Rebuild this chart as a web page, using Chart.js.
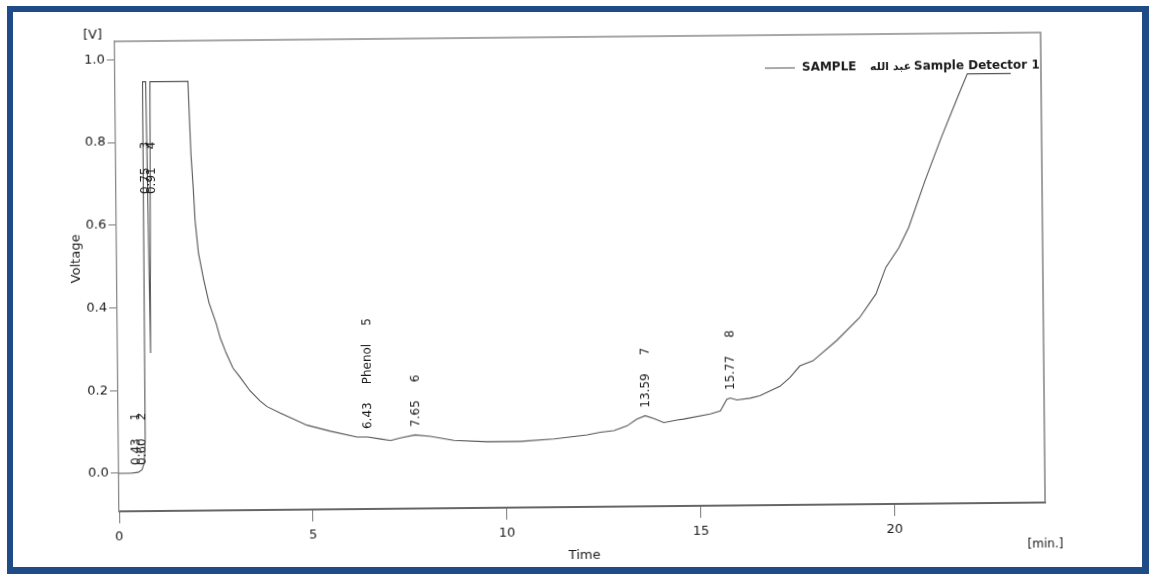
<!DOCTYPE html>
<html>
<head>
<meta charset="utf-8">
<script src="https://cdn.jsdelivr.net/npm/chart.js@4.4.1/dist/chart.umd.min.js"></script>
<style>
    html, body { margin: 0; padding: 0; background: #fff; }
    #wrap { position: relative; width: 1149px; height: 574px; overflow: hidden; }
    #chromChart { position: absolute; left: 0; top: 0; transform: rotate(-0.55deg); }
    #frame {
        position: absolute; left: 7px; top: 6px; right: 0; bottom: 0;
        box-sizing: border-box; pointer-events: none;
        border-left: 6px solid #1f4c86; border-top: 6px solid #1f4c86;
        border-right: 7px solid #1f4c86; border-bottom: 7px solid #1f4c86;
    }
</style>
</head>
<body>
<div id="wrap">
    <canvas id="chromChart" width="1149" height="574"></canvas>
    <div id="frame"></div>
</div>
<script>
// retention time (min) and detector signal (V)
const timeMin = [0, 0.3, 0.5, 0.6, 0.66, 0.69, 0.71, 0.79, 0.85, 0.90, 1.88, 1.94, 1.99, 2.03, 2.11, 2.24, 2.37, 2.55, 2.65, 2.80,
    2.97, 3.15, 3.40, 3.66, 3.84, 4.18, 4.87, 5.47, 6.16, 6.43, 6.76, 7.02, 7.27, 7.65, 8.05, 8.65, 9.51, 10.37, 11.23, 12.09,
    12.43, 12.78, 13.12, 13.37, 13.59, 13.81, 14.07, 14.41, 14.58, 15.27, 15.53, 15.70, 15.79, 15.96, 16.30, 16.55, 16.90, 17.07,
    17.33, 17.59, 17.93, 18.54, 19.14, 19.57, 19.83, 20.17, 20.43, 20.86, 21.29, 21.72, 21.98, 23.1];
const voltage = [0, 0, 0.002, 0.008, 0.025, 0.08, 0.946, 0.946, 0.29, 0.946, 0.946, 0.77, 0.69, 0.61, 0.53, 0.465, 0.41, 0.36, 0.325, 0.288,
    0.252, 0.23, 0.197, 0.172, 0.158, 0.142, 0.112, 0.097, 0.082, 0.082, 0.077, 0.073, 0.079, 0.086, 0.082, 0.072, 0.068, 0.068, 0.073, 0.082,
    0.088, 0.092, 0.103, 0.119, 0.127, 0.120, 0.110, 0.116, 0.118, 0.130, 0.137, 0.165, 0.168, 0.163, 0.167, 0.173, 0.188, 0.195,
    0.216, 0.244, 0.256, 0.304, 0.359, 0.416, 0.480, 0.527, 0.576, 0.688, 0.792, 0.889, 0.946, 0.946];

// peak table
const peakTimes = [0.43, 0.60, 0.75, 0.91, 6.43, 7.65, 13.59, 15.77];
const peakNames = ['', '', '', '', 'Phenol', '', '', ''];
const peakNumbers = ['1', '2', '3', '4', '5', '6', '7', '8'];
const peakApex = [0.0, 0.0, 0.655, 0.655, 0.082, 0.086, 0.127, 0.168];

const xTicks = [0, 5, 10, 15, 20];
const yTicks = [0, 0.2, 0.4, 0.6, 0.8, 1.0];

const legendName = 'SAMPLE';
const legendOwner = 'عبد الله';
const legendDetector = 'Sample Detector 1';

const font = 'DejaVu Sans';
const ink = '#1a1a1a';

const chromOverlay = {
    id: 'chromOverlay',
    afterDatasetsDraw(chart) {
        const { ctx, chartArea, scales } = chart;
        const x = scales.x;
        const y = scales.y;

        ctx.save();
        // top and right sides of the frame box
        ctx.strokeStyle = '#8a8a8a';
        ctx.lineWidth = 1.6;
        ctx.beginPath();
        ctx.moveTo(chartArea.left, chartArea.top);
        ctx.lineTo(chartArea.right, chartArea.top);
        ctx.lineTo(chartArea.right, chartArea.bottom);
        ctx.stroke();

        // peak annotations, rotated, reading bottom to top
        ctx.fillStyle = ink;
        ctx.font = `12px "${font}"`;
        ctx.textBaseline = 'middle';
        ctx.textAlign = 'left';
        peakTimes.forEach((t, i) => {
            const px = x.getPixelForValue(t) + 1;
            const py = y.getPixelForValue(peakApex[i]) - 8;
            const parts = [t.toFixed(2)];
            if (peakNames[i]) parts.push(peakNames[i]);
            parts.push(peakNumbers[i]);
            ctx.save();
            ctx.translate(px, py);
            ctx.rotate(-Math.PI / 2);
            let offset = 0;
            parts.forEach((p) => {
                ctx.fillText(p, offset, 0);
                offset += ctx.measureText(p).width + 18;
            });
            ctx.restore();
        });

        // legend
        ctx.strokeStyle = '#555';
        ctx.lineWidth = 1;
        ctx.beginPath();
        ctx.moveTo(767, 70);
        ctx.lineTo(797, 70);
        ctx.stroke();
        ctx.font = `bold 12px "${font}"`;
        ctx.fillText(legendName, 804, 70);
        ctx.font = `bold 11px "${font}"`;
        ctx.fillText(legendOwner, 872, 70);
        ctx.font = `bold 12px "${font}"`;
        ctx.fillText(legendDetector, 916, 70);

        // axis titles and units
        ctx.font = `13px "${font}"`;
        ctx.textAlign = 'center';
        ctx.fillText('[V]', 95, 31);
        ctx.fillText('Time', 582, 556);
        ctx.font = `12px "${font}"`;
        ctx.fillText('[min.]', 1043, 549);
        ctx.save();
        ctx.translate(77, 254);
        ctx.rotate(-Math.PI / 2);
        ctx.font = `13px "${font}"`;
        ctx.fillText('Voltage', 0, 0);
        ctx.restore();
        ctx.restore();
    },
};

new Chart(document.getElementById('chromChart').getContext('2d'), {
    type: 'line',
    data: {
        datasets: [
            {
                label: legendName,
                data: timeMin.map((t, i) => ({ x: t, y: voltage[i] })),
                borderColor: '#555555',
                borderWidth: 1.1,
                pointRadius: 0,
                tension: 0,
                fill: false,
            },
        ],
    },
    options: {
        responsive: false,
        animation: false,
        layout: {
            padding: { left: 0, right: 106, top: 37, bottom: 0 },
        },
        scales: {
            x: {
                type: 'linear',
                min: 0,
                max: 23.88,
                afterBuildTicks: (scale) => {
                    scale.ticks = xTicks.map((v) => ({ value: v }));
                },
                afterFit: (scale) => {
                    scale.height = 67;
                },
                ticks: {
                    color: ink,
                    font: { family: font, size: 13 },
                    padding: 6,
                    maxRotation: 0,
                    callback: (v) => String(v),
                },
                grid: {
                    drawOnChartArea: false,
                    tickLength: 12,
                    color: '#777',
                },
                border: { color: '#666', width: 2 },
            },
            y: {
                type: 'linear',
                min: -0.0919,
                max: 1.0442,
                afterBuildTicks: (scale) => {
                    scale.ticks = yTicks.map((v) => ({ value: v }));
                },
                afterFit: (scale) => {
                    scale.width = 117;
                },
                ticks: {
                    color: ink,
                    font: { family: font, size: 13 },
                    padding: 2,
                    callback: (v) => Number(v).toFixed(1),
                },
                grid: {
                    drawOnChartArea: false,
                    tickLength: 8,
                    color: '#6f7f7f',
                },
                border: { color: '#8a8a8a', width: 1.3 },
            },
        },
        plugins: {
            legend: { display: false },
            tooltip: { enabled: false },
        },
    },
    plugins: [chromOverlay],
});
</script>
</body>
</html>
